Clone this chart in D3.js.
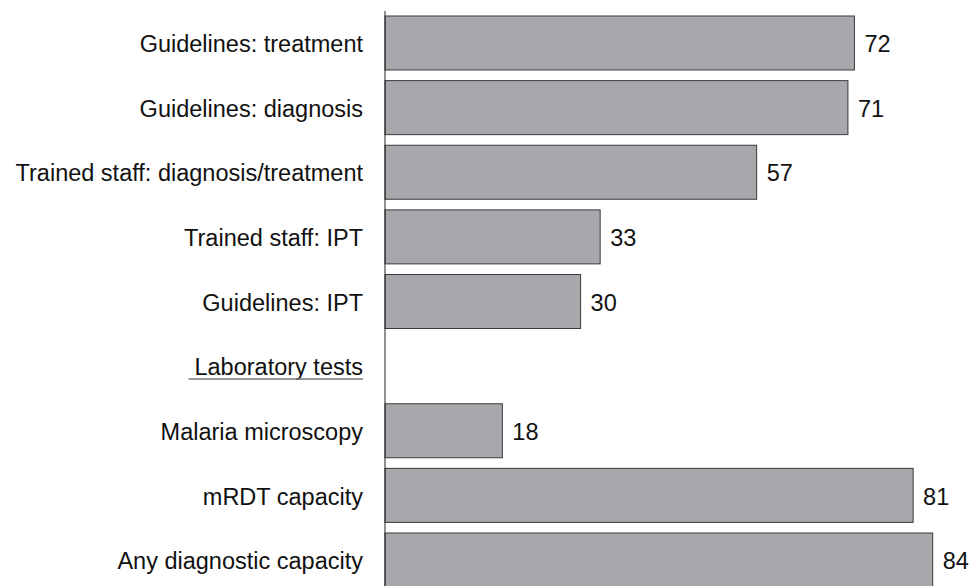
<!DOCTYPE html>
<html>
<head>
<meta charset="utf-8">
<script src="https://cdn.jsdelivr.net/npm/d3@7"></script>
<style>
  html, body { margin: 0; padding: 0; background: #fff; }
  svg { display: block; }
  text { font-family: "Liberation Sans", Arial, sans-serif; fill: #111; }
</style>
</head>
<body>
<svg id="chart" width="971" height="586"></svg>
<script>
// Row labels, top to bottom; the section header has no value
const categories = [
  "Guidelines: treatment",
  "Guidelines: diagnosis",
  "Trained staff: diagnosis/treatment",
  "Trained staff: IPT",
  "Guidelines: IPT",
  "Laboratory tests",
  "Malaria microscopy",
  "mRDT capacity",
  "Any diagnostic capacity"
];
const values = [72, 71, 57, 33, 30, null, 18, 81, 84];
const headers = ["Laboratory tests"];

const svg = d3.select("#chart");
const x0 = 385;
const fontSize = 23.5;

const x = d3.scaleLinear().domain([0, 84]).range([x0, x0 + 84 * 6.52]);
const y = d3.scaleBand().domain(categories).range([16, 587]).paddingInner(0.1644).paddingOuter(0);

const rows = categories.map((c, i) => ({ name: c, value: values[i] }));

// bars
svg.selectAll("rect.bar")
  .data(rows.filter(d => d.value != null))
  .join("rect")
  .attr("class", "bar")
  .attr("x", x(0))
  .attr("y", d => y(d.name))
  .attr("width", d => x(d.value) - x(0))
  .attr("height", y.bandwidth())
  .attr("fill", "#a7a8ab")
  .attr("stroke", "#3a3a3a")
  .attr("stroke-width", 1);

// value labels
svg.selectAll("text.val")
  .data(rows.filter(d => d.value != null))
  .join("text")
  .attr("class", "val")
  .attr("x", d => x(d.value) + 10)
  .attr("y", d => y(d.name) + y.bandwidth() / 2 + 1)
  .attr("dy", "0.35em")
  .attr("font-size", fontSize)
  .text(d => d.value);

// category labels
const lab = svg.selectAll("text.cat")
  .data(rows)
  .join("text")
  .attr("class", "cat")
  .attr("x", 363)
  .attr("y", d => y(d.name) + y.bandwidth() / 2 + 1)
  .attr("dy", "0.35em")
  .attr("text-anchor", "end")
  .attr("font-size", fontSize)
  .text(d => d.name);

// underline for section headers
lab.filter(d => headers.includes(d.name)).each(function(d) {
  const bb = this.getBBox();
  const yy = y(d.name) + y.bandwidth() / 2 + 13;
  svg.append("line")
    .attr("x1", bb.x - 6).attr("x2", bb.x + bb.width)
    .attr("y1", yy).attr("y2", yy)
    .attr("stroke", "#777").attr("stroke-width", 1.5);
});

// vertical axis line
svg.append("line")
  .attr("x1", x0).attr("x2", x0)
  .attr("y1", 11).attr("y2", 586)
  .attr("stroke", "#222").attr("stroke-width", 1);
</script>
</body>
</html>
